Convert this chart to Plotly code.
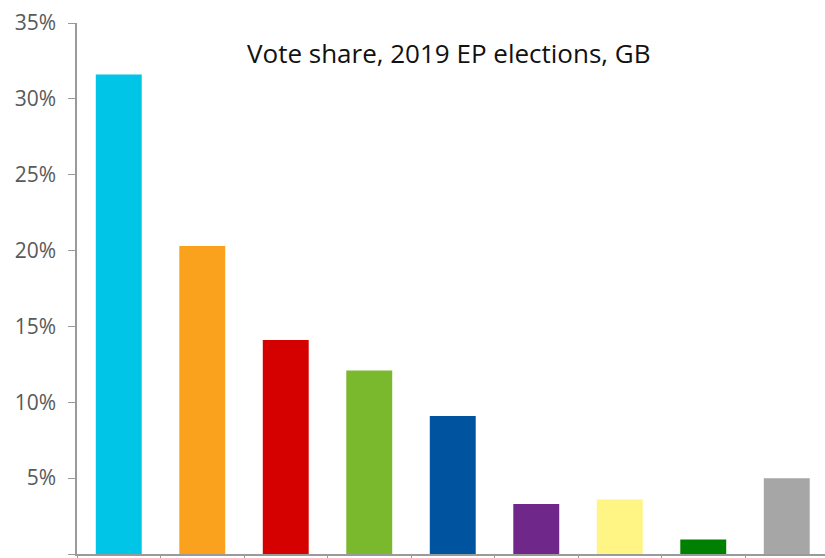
import plotly.graph_objects as go

parties = ["Brexit Party", "Liberal Democrats", "Labour", "Green", "Conservative",
           "UKIP", "SNP", "Plaid Cymru", "Other"]
shares = [31.6, 20.3, 14.1, 12.1, 9.1, 3.3, 3.6, 0.95, 5.0]
colors = ["#00C5E6", "#FAA21E", "#D50000", "#7AB82E", "#00549F",
          "#70278A", "#FFF585", "#008000", "#A6A6A6"]
ytickvals = [0, 5, 10, 15, 20, 25, 30, 35]
yticktext = ["0%", "5%", "10%", "15%", "20%", "25%", "30%", "35%"]
title = "Vote share, 2019 EP elections, GB"

fig = go.Figure(go.Bar(x=parties, y=shares, marker_color=colors, marker_line_width=0,
                       width=0.55))

fig.update_layout(
    width=825, height=558,
    margin=dict(l=77, r=0, t=23, b=4),
    plot_bgcolor="white", paper_bgcolor="white",
    showlegend=False,
    font=dict(family="Open Sans", color="#595959"),
)
fig.update_xaxes(range=[-0.5, 8.458], showticklabels=False, ticks="outside",
                 tickson="boundaries", ticklen=5, tickcolor="#9a9a9a",
                 showline=True, linecolor="#9a9a9a", linewidth=1.5,
                 showgrid=False, zeroline=False)
fig.update_yaxes(range=[0, 35], tickvals=ytickvals, ticktext=yticktext,
                 ticks="outside", ticklen=7, tickcolor="#9a9a9a",
                 showline=True, linecolor="#9a9a9a", linewidth=1.5,
                 showgrid=False, zeroline=False, ticklabelstandoff=8,
                 tickfont=dict(size=21, color="#595959", family="Open Sans"))
fig.add_annotation(text=title, xref="paper", yref="y", x=0.497, y=33.0,
                   showarrow=False, font=dict(size=26, color="#111111", family="Open Sans"))

fig.write_html("out.html")
